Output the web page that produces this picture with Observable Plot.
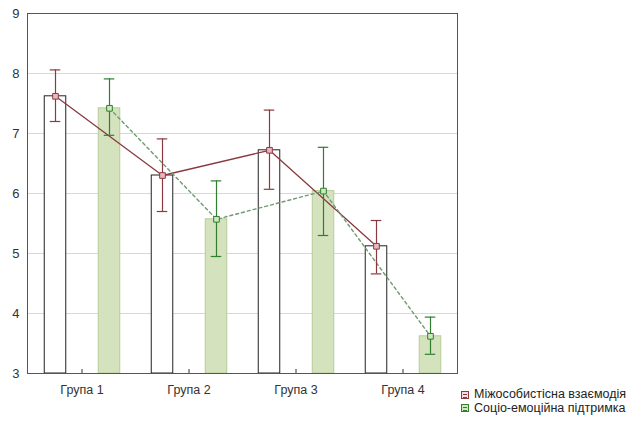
<!DOCTYPE html>
<html>
<head>
<meta charset="utf-8">
<script src="https://cdn.jsdelivr.net/npm/d3@7"></script>
<script src="https://cdn.jsdelivr.net/npm/@observablehq/plot@0.6"></script>
<style>
  body { margin: 0; background: #fff; font-family: "Liberation Sans", Arial, sans-serif; }
  #wrap { position: relative; width: 643px; height: 421px; }
  #legend { position: absolute; left: 461px; top: 388px; font-size: 12.5px; color: #222; line-height: 13.5px; }
  .row { display: flex; align-items: center; white-space: nowrap; }
  .sw { width: 8px; height: 8px; border: 1px solid; margin-right: 5px; position: relative; box-sizing: border-box; }
  .sw::after { content: ""; position: absolute; left: 1px; right: 1px; top: 2px; height: 2px; border-top: 1px solid; border-bottom: 1px solid; border-color: inherit; }
</style>
</head>
<body>
<div id="wrap"><div id="legend"></div></div>
<script>
const groups = ["Група 1", "Група 2", "Група 3", "Група 4"];
const seriesNames = ["Міжособистісна взаємодія", "Соціо-емоційна підтримка"];
const interMean = [7.62, 6.30, 6.72, 5.12];
const interLow  = [7.20, 5.70, 6.07, 4.66];
const interHigh = [8.06, 6.91, 7.39, 5.55];
const socMean = [7.42, 5.57, 6.04, 3.62];
const socLow  = [6.97, 4.95, 5.30, 3.32];
const socHigh = [7.91, 6.21, 6.77, 3.94];
const yTicks = [3, 4, 5, 6, 7, 8, 9];

const inter = groups.map((g, i) => ({group: g, mean: interMean[i], lo: interLow[i], hi: interHigh[i]}));
const soc = groups.map((g, i) => ({group: g, mean: socMean[i], lo: socLow[i], hi: socHigh[i]}));

const red = "#8a3a3f", green = "#2f7f2f";
const band = 107.5;
const wC = 27.25, gC = 81.25; // bar centers within band
const bw = 22, cap = 11;
const ins = (c, w) => ({insetLeft: c - w / 2, insetRight: band - c - w / 2});

const chart = Plot.plot({
  width: 643, height: 421,
  marginLeft: 27, marginRight: 186, marginTop: 13, marginBottom: 48,
  style: {fontFamily: "Liberation Sans, Arial, sans-serif", fontSize: "12px", color: "#333"},
  x: {type: "band", domain: groups, padding: 0, label: null},
  y: {domain: [3, 9], ticks: yTicks, label: null},
  marks: [
    Plot.ruleY(yTicks.slice(1, -1), {stroke: "#d8d8d8", strokeWidth: 1}),
    Plot.barY(inter, {x: "group", y1: 3, y2: "mean", fill: "#fff", stroke: "#222", strokeWidth: 1, ...ins(wC, bw)}),
    Plot.barY(soc, {x: "group", y1: 3, y2: "mean", fill: "#d4e3be", stroke: "#b5cc98", strokeWidth: 1, ...ins(gC, bw)}),
    Plot.lineY(inter, {x: "group", y: "mean", dx: wC - band / 2, stroke: red, strokeWidth: 1.3}),
    Plot.lineY(soc, {x: "group", y: "mean", dx: gC - band / 2, stroke: "#6f9a72", strokeWidth: 1.4, strokeDasharray: "3,3"}),
    Plot.ruleX(inter, {x: "group", y1: "lo", y2: "hi", dx: wC - band / 2, stroke: red, strokeWidth: 1.2}),
    Plot.tickY(inter, {x: "group", y: "lo", stroke: red, strokeWidth: 1.2, ...ins(wC, cap)}),
    Plot.tickY(inter, {x: "group", y: "hi", stroke: red, strokeWidth: 1.2, ...ins(wC, cap)}),
    Plot.ruleX(soc, {x: "group", y1: "lo", y2: "hi", dx: gC - band / 2, stroke: green, strokeWidth: 1.2}),
    Plot.tickY(soc, {x: "group", y: "lo", stroke: green, strokeWidth: 1.2, ...ins(gC, cap)}),
    Plot.tickY(soc, {x: "group", y: "hi", stroke: green, strokeWidth: 1.2, ...ins(gC, cap)}),
    Plot.dot(inter, {x: "group", y: "mean", dx: wC - band / 2, symbol: "square", r: 3.2, stroke: red, fill: "#e6b9bf", strokeWidth: 1}),
    Plot.dot(soc, {x: "group", y: "mean", dx: gC - band / 2, symbol: "square", r: 3.2, stroke: green, fill: "#cfe6bf", strokeWidth: 1}),
    Plot.ruleX(groups, {x: d => d, y1: 3, y2: 3, insetTop: -4, stroke: "#333", strokeWidth: 1}),
    Plot.frame({stroke: "#555", strokeWidth: 1}),
    Plot.axisY({ticks: yTicks, tickSize: 0, tickPadding: 8, fontSize: 13, fill: "#333", tickFormat: d => String(d)}),
    Plot.axisX({tickSize: 0, tickPadding: 12, fill: "#333", fontSize: 12.5})
  ]
});
document.getElementById("wrap").prepend(chart);

const legend = document.getElementById("legend");
const swCols = [{stroke: red, fill: "#f4dde0"}, {stroke: green, fill: "#cfe6bf"}];
seriesNames.forEach((name, i) => {
  const row = document.createElement("div");
  row.className = "row";
  const sw = document.createElement("span");
  sw.className = "sw";
  sw.style.borderColor = swCols[i].stroke;
  sw.style.background = swCols[i].fill;
  const t = document.createElement("span");
  t.textContent = name;
  row.append(sw, t);
  legend.append(row);
});
</script>
</body>
</html>
